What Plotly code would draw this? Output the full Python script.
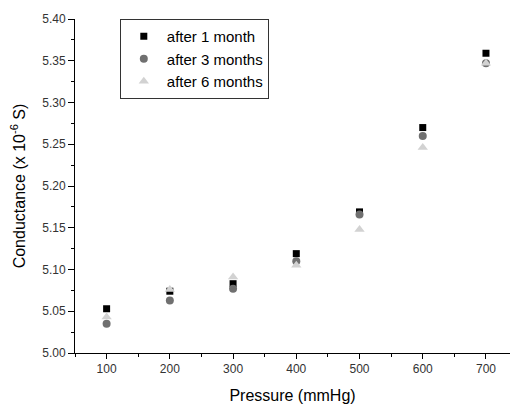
import plotly.graph_objects as go

pressure = [100, 200, 300, 400, 500, 600, 700]
month1 = [5.053, 5.074, 5.083, 5.119, 5.169, 5.270, 5.359]
month3 = [5.035, 5.063, 5.077, 5.110, 5.166, 5.260, 5.347]
month6 = [5.043, 5.076, 5.091, 5.105, 5.148, 5.246, 5.347]

fig = go.Figure()
fig.add_trace(go.Scatter(x=pressure, y=month1, mode="markers", name="after 1 month",
                         marker=dict(symbol="square", size=7, color="#000000")))
fig.add_trace(go.Scatter(x=pressure, y=month3, mode="markers", name="after 3 months",
                         marker=dict(symbol="circle", size=8, color="#707070")))
fig.add_trace(go.Scatter(x=pressure, y=month6, mode="markers", name="after 6 months",
                         marker=dict(symbol="triangle-up", size=9, color="#d2d2d2")))

font = "Liberation Sans, Arial, sans-serif"
fig.update_layout(
    width=510, height=404,
    margin=dict(l=75, r=0, t=19, b=51),
    paper_bgcolor="white", plot_bgcolor="white",
    font=dict(family=font, color="#000000"),
    showlegend=True,
    legend=dict(x=0.103, y=1.0, xanchor="left", yanchor="top",
                bordercolor="#333333", borderwidth=1, bgcolor="white",
                font=dict(size=15, family=font), tracegroupgap=0, itemwidth=36),
    xaxis=dict(range=[50, 738], tickvals=[100, 200, 300, 400, 500, 600, 700],
               showgrid=False, zeroline=False, showline=True, linecolor="black", linewidth=1,
               ticks="outside", ticklen=5, tickcolor="black",
               tickfont=dict(size=12, color="#333333"),
               minor=dict(tickvals=[50, 150, 250, 350, 450, 550, 650], ticks="outside", ticklen=3, tickcolor="black"),
               title=dict(text="Pressure (mmHg)", font=dict(size=16), standoff=14)),
    yaxis=dict(range=[5.0, 5.40], dtick=0.05, tick0=5.0, tickformat=".2f",
               showgrid=False, zeroline=False, showline=True, linecolor="black", linewidth=1,
               ticks="outside", ticklen=6, tickcolor="black",
               tickfont=dict(size=12, color="#333333"),
               minor=dict(dtick=0.025, ticks="outside", ticklen=3, tickcolor="black"),
               title=dict(text="Conductance (x 10<sup>-6</sup> S)", font=dict(size=16), standoff=12)),
)
fig.write_html("out.html", config={"displayModeBar": False},
               post_script="document.body.style.margin='0';document.body.style.padding='0';")
